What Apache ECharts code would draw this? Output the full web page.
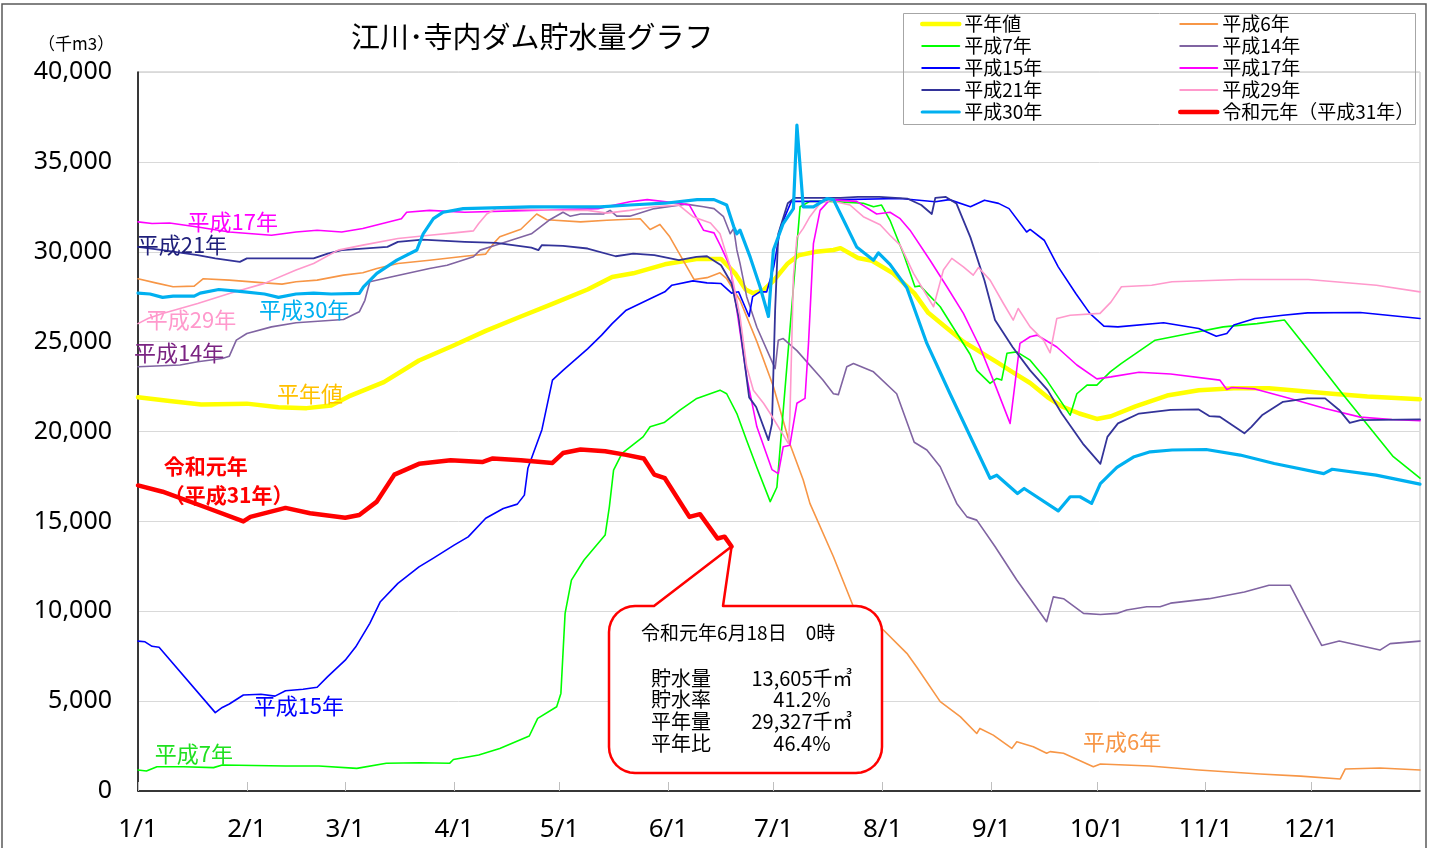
<!DOCTYPE html>
<html><head><meta charset="utf-8">
<script src="https://cdn.jsdelivr.net/npm/echarts@6/dist/echarts.min.js"></script>
<style>html,body{margin:0;padding:0;background:#fff}#chart{width:1429px;height:848px}</style>
</head><body><div id="chart"></div>
<script>
// x axis: day of year (1/1 = 0), y axis: storage in 千m3
const monthStarts = [0, 31, 59, 90, 120, 151, 181, 212, 243, 273, 304, 334];
const monthLabels = ['1/1', '2/1', '3/1', '4/1', '5/1', '6/1', '7/1', '8/1', '9/1', '10/1', '11/1', '12/1'];

const avgYear = [[0,21900],[9,21700],[18,21500],[31,21550],[40,21350],[48,21300],[55,21450],[60,21950],[70,22750],[80,23950],[90,24800],[99,25600],[109,26400],[118,27100],[128,27900],[135,28600],[141,28800],[150,29300],[159,29600],[166,29600],[170,28800],[173,27900],[175,27700],[178,27850],[181,28400],[185,29350],[188,29800],[193,30000],[198,30100],[200,30200],[205,29650],[209,29500],[215,28800],[221,27700],[225,26600],[230,25800],[235,25000],[240,24400],[245,23800],[249,23300],[254,22700],[259,21900],[263,21400],[268,21000],[273,20700],[277,20850],[284,21400],[293,22000],[302,22300],[312,22400],[322,22400],[331,22250],[340,22100],[350,21950],[365,21800]];

const h06 = [[0,28500],[5,28270],[10,28050],[16,28090],[18.6,28500],[26,28420],[36,28270],[41,28200],[45,28330],[51,28420],[58.5,28700],[64,28830],[68,29070],[74,29350],[83,29530],[93,29750],[99,29870],[101.2,30450],[103,30830],[109,31250],[113.5,32100],[116.4,31780],[126,31660],[133.5,31750],[143,31840],[145.8,31240],[148.6,31520],[151.4,30830],[158.3,28460],[162,28560],[165.7,28830],[167.6,28500],[171.4,27300],[176.2,25000],[180.9,22500],[185.6,19300],[189.4,17300],[191.3,16000],[198,13030],[203.7,10250],[211.3,9140],[218.9,7660],[221.7,6900],[228.4,4970],[234.1,4140],[238.8,3200],[239.7,3480],[243.5,3110],[248.8,2370],[250.2,2740],[254.9,2460],[258.7,2100],[259.7,2190],[263.5,2100],[272,1350],[274,1500],[288,1390],[302,1170],[319.5,950],[331,830],[342.3,670],[343.7,1220],[353.6,1280],[365,1170]];

const h07 = [[0,1170],[2.4,1110],[5.4,1350],[13,1350],[21.5,1300],[24,1450],[42,1390],[51.5,1390],[62.3,1260],[70.7,1540],[80.3,1570],[88.7,1540],[89.8,1750],[97,2000],[103,2370],[111.4,3060],[113.8,4040],[119.2,4690],[120.4,5430],[121,7660],[121.6,9880],[123.4,11730],[127,12850],[133,14240],[134.2,15810],[135.4,17850],[137.8,18780],[143.8,19700],[145.8,20260],[149.8,20500],[154.3,21190],[159.1,21840],[165.7,22300],[167.6,22100],[170.5,21000],[173.3,19500],[176.2,18000],[180,16100],[181.9,16900],[188.5,32500],[191.3,32800],[197,32800],[206.5,32700],[209.4,32500],[211.7,32600],[214.1,31750],[217.9,29900],[221.2,28050],[222.7,28100],[228.4,26940],[236.9,24300],[238.8,23400],[242.6,22680],[244.5,22950],[245.9,22860],[247.4,24350],[250.2,24430],[254,23970],[258.7,22860],[265.4,20910],[267.3,22100],[270.2,22580],[273,22580],[276.8,23320],[279.9,23780],[289.6,25080],[299.3,25450],[309,25820],[318.6,26000],[326.4,26200],[333.2,24530],[342.9,22100],[357.4,18600],[365,17400]];

const h14 = [[0,23600],[12,23700],[17,23880],[24,24060],[26,24190],[28,25080],[31,25450],[38,25820],[45,26050],[58.5,26230],[63,26660],[64.6,27300],[66,28330],[72,28600],[83,29070],[88,29250],[95.5,29720],[97.4,30090],[102,30370],[112,31000],[117,31750],[121,32200],[123,31980],[126,32100],[132.5,32100],[134.4,32300],[136.3,31980],[140,31980],[147,32400],[156,32650],[161,32500],[164,32400],[166.7,31950],[168.6,31000],[169.6,31300],[170.5,30100],[171.4,29350],[173.3,27500],[176.2,25800],[181.4,23500],[182.3,25080],[183.7,25170],[187.6,24500],[195,22860],[198,22100],[199.4,22050],[201.8,23600],[203.7,23780],[209.4,23320],[216,22100],[221,19400],[224.6,18970],[228.4,18040],[233.1,16000],[236,15250],[238.8,15070],[244,13600],[250.2,11740],[258.7,9420],[260.6,10800],[263.5,10700],[269.2,9880],[274,9820],[278.7,9880],[281.5,10070],[287.2,10250],[291,10250],[294,10450],[305,10700],[315,11070],[322,11450],[328,11450],[337,8100],[342,8340],[353.6,7840],[356.5,8200],[365,8340]];

const h15 = [[0,8340],[2,8300],[4,8050],[6,8000],[22,4360],[24,4650],[26,4840],[30,5340],[35,5380],[39,5280],[42,5580],[47,5660],[51,5770],[54,6360],[59,7280],[62,8020],[66,9330],[69,10530],[74,11550],[80,12470],[84,12940],[90,13680],[94,14140],[99,15170],[104,15720],[108,15960],[110,16460],[111,17950],[115,20100],[118,22860],[121,23400],[128,24600],[132,25360],[135,26000],[139,26750],[147,27500],[150,27770],[152,28140],[158,28380],[162,28270],[166,28230],[169,27700],[171,27770],[174,26400],[175,27500],[177,27770],[179,27770],[181,29160],[183,31400],[186,32800],[189,32800],[194,32800],[200,32900],[217,32960],[227,32780],[231,32900],[237,32500],[241,32870],[245,32690],[248,32400],[253,31100],[254,31240],[258,30640],[262,29160],[267,27680],[271,26570],[275,25860],[279,25820],[292,26050],[302,25730],[307,25300],[310,25450],[312,25920],[318,26290],[326,26470],[333,26600],[348,26620],[365,26290]];

const h17 = [[0,31660],[4,31570],[9,31600],[17,31380],[26,31100],[38,30920],[45,31100],[51,31200],[58,31100],[64,31290],[75,31840],[76.5,32200],[83,32300],[93,32200],[112,32300],[131,32400],[140,32780],[145,32900],[154,32700],[157,32600],[161,31200],[164,31050],[166,30270],[168.6,29160],[170.5,26750],[173.3,23040],[176.2,20260],[180.5,17880],[182.3,17660],[183.7,19150],[185.6,19240],[187.6,21570],[189.9,21840],[190.9,24900],[192.3,30450],[194.2,32300],[197,32900],[204.6,32800],[210.3,32100],[214.1,32200],[217,31840],[219.8,31200],[225.5,29530],[230.3,28050],[235,26570],[239.7,24700],[243.5,22860],[248.3,20450],[251.1,24900],[254,25270],[256,25360],[261.6,24700],[267.3,23700],[273,22930],[277,23040],[285,23300],[294,23200],[308,22860],[310,22340],[311.4,22450],[318,22370],[328,21840],[338,21280],[348,20800],[357,20670],[365,20600]];

const h21 = [[0,30270],[7,30090],[17,29810],[22,29630],[29,29440],[31,29630],[40,29630],[50,29630],[54,29900],[58,30090],[71,30270],[74,30550],[81,30680],[93,30550],[102,30490],[112,30230],[114,30090],[115,30370],[121,30330],[128,30180],[136,29750],[141,29900],[147,29810],[154,29530],[159,29720],[162,29750],[166,29250],[169,28230],[171,26400],[173,23400],[174,21900],[176,21360],[179.5,19520],[180.5,20440],[181.4,26750],[182.3,31000],[185,32700],[187,33000],[200,33000],[205,33050],[211,33050],[219,32960],[223,32600],[226,32100],[227,33000],[230,33050],[233,32690],[237,30800],[241,28400],[244,26200],[249,24700],[254,23400],[259,22300],[263,21000],[269,19330],[274,18200],[276,19700],[279,20450],[285,21000],[294,21200],[302,21230],[305,20860],[308,20820],[315,19900],[317,20260],[320,20900],[326,21650],[333,21840],[338,21840],[342,21200],[345,20480],[348,20630],[365,20670]];

const h29 = [[0,26000],[3,26300],[7,26570],[17,27120],[26,27680],[36,28240],[45,28980],[50,29350],[57,30090],[64,30370],[74,30740],[83,30920],[90,31050],[95.5,31160],[97,31570],[99.3,32100],[102,32400],[121,32300],[128,32300],[133.5,32150],[140,32300],[147,32500],[154,32600],[158,31950],[163,31600],[165.7,31000],[168.6,29160],[171.4,26400],[173.3,23600],[175.2,22300],[178.1,21570],[180,21000],[185.2,19330],[185.6,20800],[186.6,28600],[187.6,30800],[189.4,31300],[191.3,31950],[194.2,32700],[197,32850],[202.7,32600],[206.5,31950],[211.3,31500],[214.1,30920],[217,30370],[220.8,28800],[226.5,26940],[229.3,28980],[231.7,29630],[235,29160],[237.8,28700],[239.3,29120],[242.6,28420],[246.4,27120],[249.2,26200],[250.6,26840],[254,25820],[257.8,25080],[259.7,24380],[261.6,26290],[265.4,26470],[273.9,26570],[277,27200],[280,28050],[288.6,28140],[294.4,28330],[313.8,28460],[333.2,28460],[352.6,28140],[365,27770]];

const h30 = [[0,27700],[3.4,27650],[7,27460],[10,27530],[16,27530],[17.7,27700],[23,27900],[29,27800],[36,27650],[40,27460],[45,27650],[50,27700],[55,27650],[63,27680],[64.2,28050],[68,28800],[73.7,29530],[79.4,30100],[81.2,31000],[84.1,31840],[86.9,32200],[92.6,32400],[111.6,32500],[131.5,32500],[140,32600],[150,32700],[159.2,32900],[164,32900],[167.6,32600],[169.6,31400],[170.5,31000],[171.4,31200],[174.3,29700],[177.1,28050],[179.5,26400],[180.9,30100],[183.7,31570],[186.6,32400],[187.6,37050],[189.4,32500],[192.3,32500],[196.1,32960],[198,32900],[200.9,31750],[204.6,30270],[209.4,29530],[210.8,29940],[214.1,29300],[218.9,28000],[224.6,24900],[231.2,22100],[237.9,19330],[242.6,17400],[244.5,17570],[250.4,16550],[252.3,16830],[262,15580],[265.4,16370],[268.2,16370],[271.5,16000],[274,17100],[278.7,18000],[283.4,18580],[288.2,18870],[294.4,18970],[304.1,19000],[313.8,18690],[323.5,18220],[337.6,17660],[340,17900],[352.5,17570],[365,17070]];

const r01 = [[0,17000],[7,16650],[19,15800],[30,15000],[32,15250],[42,15750],[49,15450],[59,15200],[63,15350],[68,16100],[73,17600],[80,18200],[89,18400],[98,18300],[101,18500],[109,18400],[118,18250],[121,18800],[126,19000],[133,18900],[139,18700],[144,18500],[147,17600],[150,17400],[157,15250],[160,15400],[165,14050],[167,14150],[169,13605]];

// latest reading shown in the callout
const latestDate = '令和元年6月18日　0時';
const latestStorage = r01[r01.length - 1][1];   // 千m3
const latestRate = '41.2%';
const normalStorage = 29327;                       // 千m3
const normalRatio = '46.4%';

const JP = '"Noto Sans CJK JP", "Noto Sans", sans-serif';
const NUM = '"Noto Sans", sans-serif';

// line widths per series (also used for the legend keys)
const widths = {
  '平年値': 4.5, '平成6年': 1.6, '平成7年': 1.6, '平成14年': 1.6, '平成15年': 1.6,
  '平成17年': 1.6, '平成21年': 1.8, '平成29年': 1.6, '平成30年': 3.2, '令和元年（平成31年）': 4.5
};

function lineSeries(name, data, color, tag) {
  const s = {
    name, type: 'line', data, symbol: 'none', showSymbol: false, smooth: false,
    lineStyle: { color, width: widths[name], join: 'round', cap: 'round' },
    itemStyle: { color },
    emphasis: { disabled: true }, animation: false
  };
  if (tag) {
    s.markPoint = {
      symbol: 'circle', symbolSize: 0, silent: true, animation: false,
      data: [{ coord: tag.at }],
      label: Object.assign({
        show: true, position: 'inside', formatter: tag.text,
        color: tag.color, fontSize: 22, fontFamily: JP
      }, tag.extra || {})
    };
  }
  return s;
}

const chart = echarts.init(document.getElementById('chart'));

const fmt = v => v.toLocaleString('en-US');

function legendCol(names, left) {
  return {
    data: names.map(n => ({ name: n, lineStyle: { width: Math.max(2, widths[n]) } })),
    left, top: 13, padding: 0, orient: 'vertical',
    itemWidth: 37, itemHeight: 14, itemGap: 0, selectedMode: false,
    itemStyle: { color: 'rgba(0,0,0,0)', borderWidth: 0, opacity: 0 },
    textStyle: { fontSize: 19, lineHeight: 22, color: '#000', fontFamily: JP }
  };
}

chart.setOption({
  backgroundColor: '#fff',
  animation: false,
  title: {
    text: '江川･寺内ダム貯水量グラフ', left: 346, top: 17,
    textStyle: { fontSize: 29, fontWeight: 'normal', color: '#000', fontFamily: JP }
  },
  grid: { left: 138, right: 9, top: 72, bottom: 57, show: true, borderColor: '#bfbfbf', borderWidth: 1 },
  legend: [
    legendCol(['平年値', '平成7年', '平成15年', '平成21年', '平成30年'], 920),
    legendCol(['平成6年', '平成14年', '平成17年', '平成29年', '令和元年（平成31年）'], 1178)
  ],
  xAxis: {
    type: 'value', min: 0, max: 365,
    axisLine: { show: true, lineStyle: { color: '#000', width: 1.5 } },
    axisTick: { show: true, inside: true, length: 9, customValues: monthStarts, lineStyle: { color: '#bfbfbf' } },
    axisLabel: {
      customValues: monthStarts, margin: 26,
      formatter: v => monthLabels[monthStarts.indexOf(v)],
      fontSize: 26, color: '#000', fontFamily: NUM
    },
    splitLine: { show: false }
  },
  yAxis: {
    type: 'value', min: 0, max: 40000, interval: 5000,
    axisLine: { show: true, lineStyle: { color: '#000', width: 1.5 } },
    axisTick: { show: false },
    axisLabel: { formatter: fmt, fontSize: 25, margin: 26, color: '#000', fontFamily: NUM },
    splitLine: { show: true, lineStyle: { color: '#d9d9d9', width: 1 } }
  },
  series: [
    lineSeries('平年値', avgYear, '#ffff00', { at: [49, 22080], text: '平年値', color: '#ffc000' }),
    lineSeries('平成6年', h06, '#f79646', { at: [280.2, 2730], text: '平成6年', color: '#f79646' }),
    lineSeries('平成7年', h07, '#00ff00', { at: [15.9, 2060], text: '平成7年', color: '#1fe01f' }),
    lineSeries('平成14年', h14, '#8064a2', { at: [11.7, 24400], text: '平成14年', color: '#7b2482' }),
    lineSeries('平成15年', h15, '#0000ff', { at: [45.8, 4730], text: '平成15年', color: '#0000ff' }),
    lineSeries('平成17年', h17, '#ff00ff', { at: [27, 31650], text: '平成17年', color: '#ff00ff' }),
    lineSeries('平成21年', h21, '#333399', { at: [12.5, 30420], text: '平成21年', color: '#1f1f7a' }),
    lineSeries('平成29年', h29, '#ff99cc', { at: [15.1, 26200], text: '平成29年', color: '#ff99cc' }),
    lineSeries('平成30年', h30, '#00b0f0', { at: [47.3, 26800], text: '平成30年', color: '#00b0f0' }),
    lineSeries('令和元年（平成31年）', r01, '#ff0000', {
      at: [7.3, 17250], text: '令和元年\n（平成31年）', color: '#ff0000',
      extra: { align: 'left', fontWeight: 'bold', fontSize: 21, lineHeight: 29 }
    })
  ]
});

// callout box with a pointer to the latest reading
const tip = chart.convertToPixel({ gridIndex: 0 }, r01[r01.length - 1]);
const bx = 609, by = 606, bw = 273, bh = 167, rr = 26;
function corner(cx, cy, a0, a1) {
  const pts = [];
  for (let i = 0; i <= 8; i++) {
    const a = a0 + (a1 - a0) * i / 8;
    pts.push([cx + rr * Math.cos(a), cy + rr * Math.sin(a)]);
  }
  return pts;
}
const P = Math.PI;
const calloutPts = [
  [654, by], [tip[0], tip[1]], [723, by],
  ...corner(bx + bw - rr, by + rr, -P / 2, 0),
  ...corner(bx + bw - rr, by + bh - rr, 0, P / 2),
  ...corner(bx + rr, by + bh - rr, P / 2, P),
  ...corner(bx + rr, by + rr, P, 1.5 * P)
];

const statRows = [
  ['貯水量', fmt(latestStorage) + '千㎥'],
  ['貯水率', latestRate],
  ['平年量', fmt(normalStorage) + '千㎥'],
  ['平年比', normalRatio]
];
const graphics = [
  { type: 'rect', shape: { x: 2, y: 4, width: 1424, height: 850 }, style: { fill: 'none', stroke: '#595959', lineWidth: 1.5 }, silent: true, z: 100 },
  { type: 'rect', shape: { x: 903.5, y: 13.5, width: 512, height: 111 }, style: { fill: 'none', stroke: '#a6a6a6', lineWidth: 1 }, silent: true, z: 100 },
  { type: 'text', x: 38, y: 44, style: { text: '（千m3）', font: '17px ' + JP, fill: '#000', textVerticalAlign: 'middle' } },
  { type: 'polygon', shape: { points: calloutPts }, style: { fill: '#fff', stroke: '#ff0000', lineWidth: 2.5, lineJoin: 'round' }, z: 50 },
  { type: 'text', x: 641, y: 633, z: 51, style: { text: latestDate, font: '19px ' + JP, fill: '#000', textVerticalAlign: 'middle' } }
];
statRows.forEach((r, i) => {
  const y = 678 + i * 21.7;
  graphics.push({ type: 'text', x: 651, y: y, z: 51, style: { text: r[0], font: '20px ' + JP, fill: '#000', textVerticalAlign: 'middle' } });
  graphics.push({ type: 'text', x: 802, y: y, z: 51, style: { text: r[1], font: '20px ' + JP, fill: '#000', textAlign: 'center', textVerticalAlign: 'middle' } });
});
chart.setOption({ graphic: graphics });
</script></body></html>
